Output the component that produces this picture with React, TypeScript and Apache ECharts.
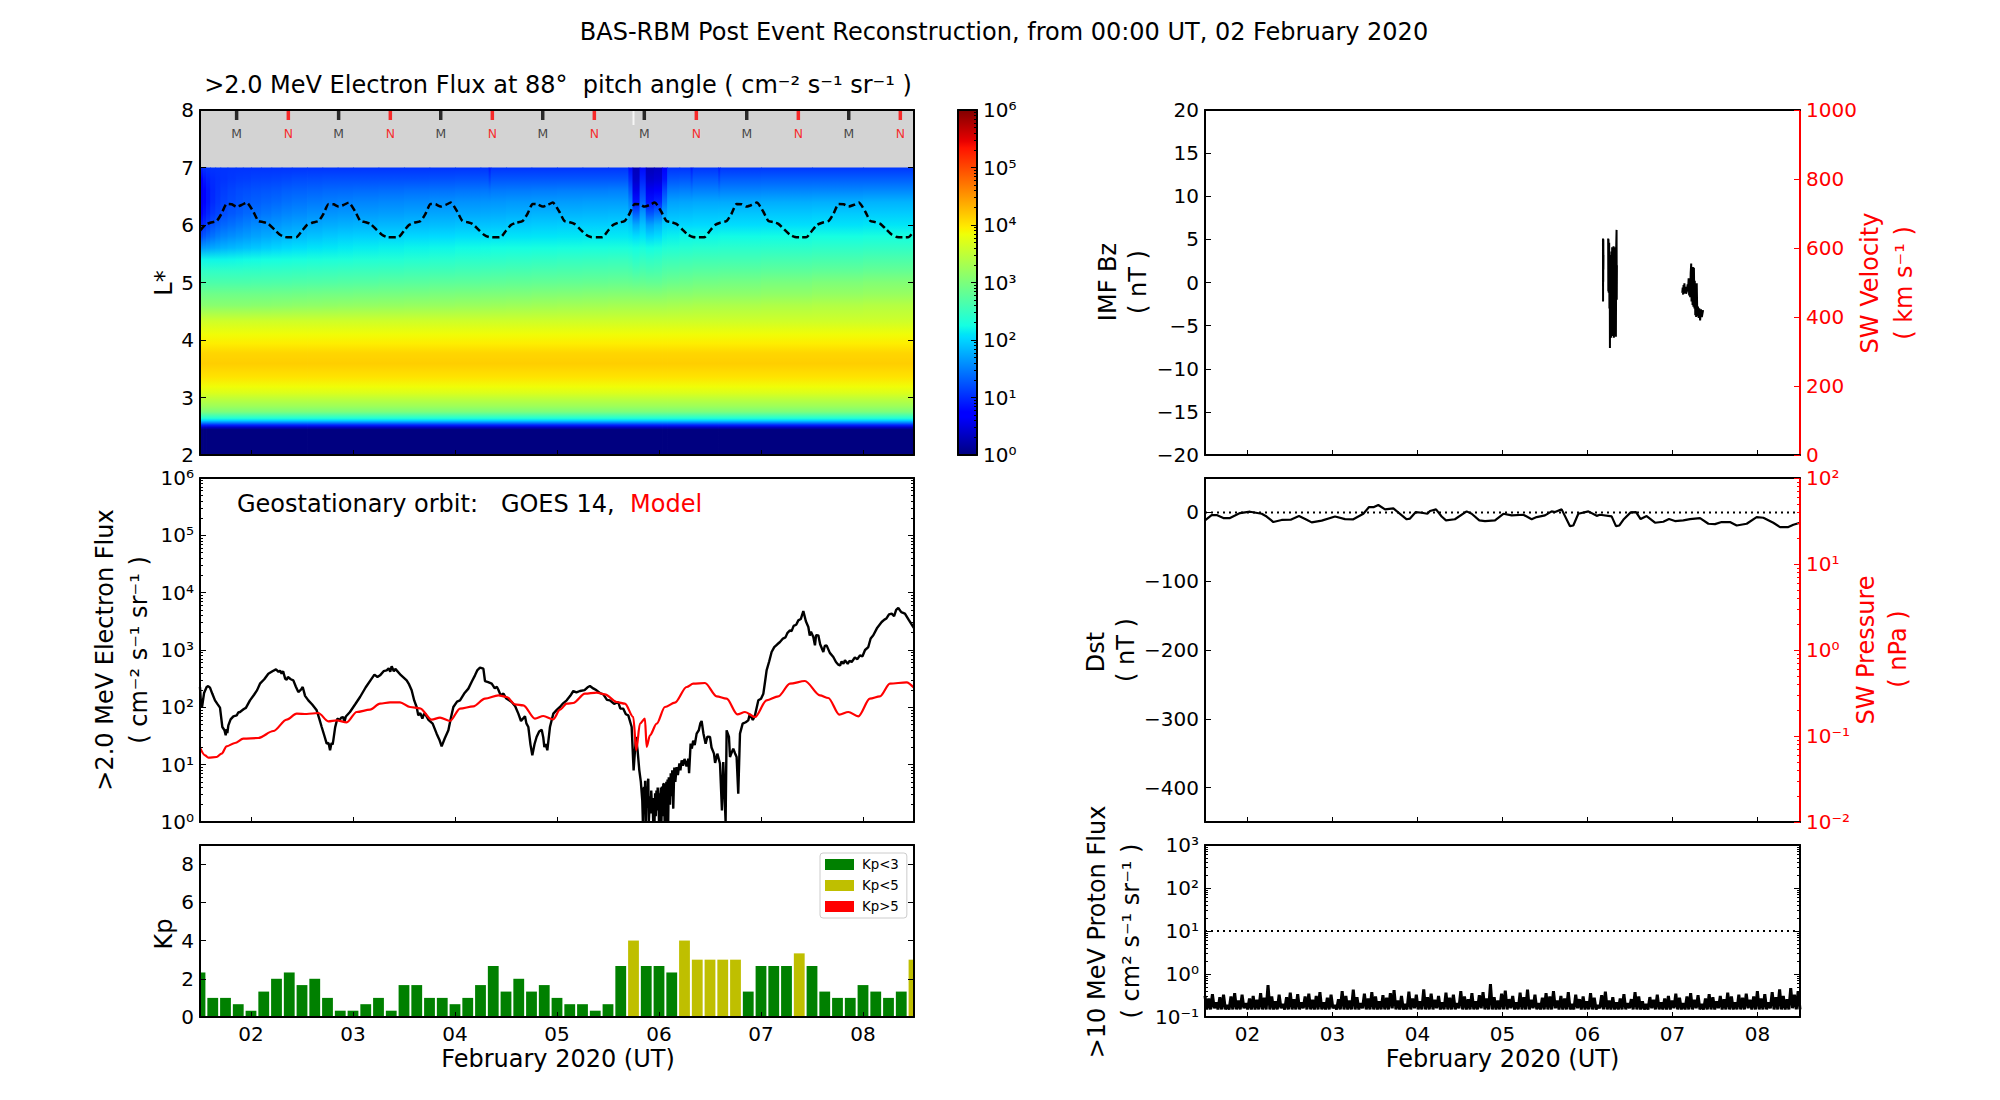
import React, { useEffect, useRef } from "react";
import * as echarts from "echarts";

const FONT = "DejaVu Sans";
const TITLE = "BAS-RBM Post Event Reconstruction, from 00:00 UT, 02 February 2020";
const DAY_TICKS = [2, 3, 4, 5, 6, 7, 8];

const innerLStar = [2, 2.44, 2.48, 2.52, 2.56, 2.6, 2.64, 2.7, 2.75, 2.85, 2.96, 3.08, 3.19, 3.36, 3.59, 3.77, 3.94, 4.1, 4.33];
const innerLogFlux = [0, 0, 0.35, 0.95, 1.5, 2.0, 2.35, 2.7, 3.0, 3.25, 3.45, 3.7, 3.85, 4.02, 4.15, 4.1, 3.95, 3.85, 3.6];
const outerLStar = [4.6, 4.8, 5.0, 5.2, 5.4, 5.6, 5.8, 6.0, 6.2, 6.4, 6.6, 6.8, 7.0];
const columnStart = [1.5, 1.53, 1.56, 1.6, 1.65, 1.7, 1.77, 1.85, 1.92, 2, 2.1, 2.2, 2.3, 2.4, 2.55, 2.7, 2.85, 3, 3.25, 3.5, 3.75, 4, 4.25, 4.33, 4.35, 4.5, 4.75, 5, 5.25, 5.5, 5.7, 5.74, 5.81, 5.87, 5.95, 6.03, 6.08, 6.2, 6.31, 6.33, 6.58, 6.6, 7, 7.5, 8];
const outerLogFlux = [
  [3.1, 2.9, 2.65, 2.45, 2.2, 1.65, 1.2, 0.95, 0.75, 0.6, 0.6, 0.75, 1.0],
  [3.1, 2.9, 2.65, 2.45, 2.2, 1.68, 1.28, 1.03, 0.85, 0.75, 0.75, 0.87, 1.03],
  [3.1, 2.9, 2.65, 2.45, 2.2, 1.7, 1.36, 1.12, 0.96, 0.88, 0.88, 0.95, 1.05],
  [3.1, 2.9, 2.65, 2.45, 2.2, 1.74, 1.43, 1.23, 1.08, 1.0, 0.98, 1.0, 1.05],
  [3.1, 2.9, 2.65, 2.45, 2.2, 1.77, 1.5, 1.3, 1.15, 1.08, 1.05, 1.03, 1.05],
  [3.1, 2.9, 2.65, 2.45, 2.2, 1.8, 1.55, 1.36, 1.21, 1.15, 1.1, 1.05, 1.05],
  [3.1, 2.9, 2.65, 2.45, 2.21, 1.83, 1.59, 1.41, 1.26, 1.2, 1.15, 1.08, 1.05],
  [3.1, 2.9, 2.65, 2.45, 2.22, 1.86, 1.63, 1.46, 1.31, 1.24, 1.19, 1.1, 1.05],
  [3.1, 2.9, 2.65, 2.46, 2.23, 1.89, 1.67, 1.51, 1.36, 1.28, 1.21, 1.11, 1.05],
  [3.11, 2.9, 2.66, 2.46, 2.24, 1.92, 1.71, 1.56, 1.41, 1.31, 1.23, 1.13, 1.05],
  [3.11, 2.9, 2.66, 2.47, 2.25, 1.96, 1.75, 1.6, 1.45, 1.34, 1.25, 1.14, 1.05],
  [3.12, 2.91, 2.67, 2.47, 2.26, 2.0, 1.79, 1.64, 1.49, 1.37, 1.27, 1.15, 1.05],
  [3.13, 2.91, 2.67, 2.48, 2.27, 2.03, 1.83, 1.68, 1.53, 1.41, 1.3, 1.17, 1.05],
  [3.14, 2.92, 2.68, 2.49, 2.28, 2.06, 1.86, 1.71, 1.56, 1.44, 1.32, 1.19, 1.05],
  [3.15, 2.93, 2.69, 2.5, 2.3, 2.09, 1.9, 1.74, 1.6, 1.47, 1.34, 1.2, 1.05],
  [3.16, 2.94, 2.7, 2.51, 2.31, 2.11, 1.93, 1.77, 1.62, 1.49, 1.36, 1.21, 1.05],
  [3.17, 2.94, 2.71, 2.52, 2.32, 2.13, 1.96, 1.79, 1.64, 1.51, 1.37, 1.21, 1.05],
  [3.18, 2.95, 2.72, 2.53, 2.34, 2.15, 1.98, 1.81, 1.66, 1.53, 1.38, 1.21, 1.05],
  [3.19, 2.96, 2.74, 2.54, 2.35, 2.17, 2.0, 1.83, 1.68, 1.55, 1.39, 1.21, 1.05],
  [3.2, 2.97, 2.75, 2.56, 2.37, 2.19, 2.02, 1.85, 1.7, 1.57, 1.41, 1.21, 1.05],
  [3.21, 2.99, 2.77, 2.57, 2.39, 2.21, 2.04, 1.87, 1.72, 1.59, 1.42, 1.22, 1.05],
  [3.22, 3.0, 2.78, 2.59, 2.41, 2.23, 2.06, 1.89, 1.74, 1.61, 1.44, 1.23, 1.05],
  [3.23, 3.01, 2.79, 2.6, 2.42, 2.24, 2.07, 1.9, 1.75, 1.62, 1.45, 1.24, 1.05],
  [3.23, 3.01, 2.79, 2.6, 2.42, 2.24, 2.07, 1.9, 1.75, 1.62, 1.42, 1.12, 0.9],
  [3.24, 3.01, 2.8, 2.61, 2.43, 2.25, 2.08, 1.91, 1.76, 1.63, 1.46, 1.25, 1.05],
  [3.25, 3.02, 2.81, 2.62, 2.44, 2.26, 2.09, 1.93, 1.78, 1.65, 1.47, 1.25, 1.05],
  [3.27, 3.04, 2.82, 2.64, 2.46, 2.27, 2.1, 1.95, 1.8, 1.66, 1.48, 1.25, 1.05],
  [3.28, 3.05, 2.83, 2.65, 2.48, 2.28, 2.11, 1.96, 1.81, 1.67, 1.49, 1.25, 1.05],
  [3.29, 3.06, 2.84, 2.66, 2.49, 2.29, 2.12, 1.97, 1.82, 1.68, 1.49, 1.25, 1.05],
  [3.3, 3.07, 2.85, 2.67, 2.5, 2.3, 2.12, 1.98, 1.83, 1.68, 1.5, 1.25, 1.05],
  [3.3, 3.07, 2.84, 2.65, 2.47, 2.28, 2.1, 1.92, 1.7, 1.5, 1.25, 1.0, 0.8],
  [3.3, 3.06, 2.82, 2.6, 2.42, 2.25, 2.05, 1.75, 1.3, 0.85, 0.55, 0.38, 0.3],
  [3.3, 3.07, 2.84, 2.65, 2.48, 2.3, 2.1, 1.9, 1.65, 1.35, 1.15, 0.95, 0.8],
  [3.3, 3.06, 2.82, 2.62, 2.45, 2.25, 2.0, 1.7, 1.25, 0.85, 0.6, 0.4, 0.3],
  [3.3, 3.06, 2.82, 2.63, 2.47, 2.28, 2.05, 1.8, 1.4, 0.95, 0.65, 0.45, 0.35],
  [3.3, 3.08, 2.86, 2.68, 2.52, 2.33, 2.15, 1.98, 1.72, 1.42, 1.15, 0.85, 0.7],
  [3.32, 3.1, 2.88, 2.7, 2.53, 2.35, 2.17, 2.0, 1.85, 1.7, 1.48, 1.25, 1.05],
  [3.33, 3.1, 2.9, 2.72, 2.55, 2.37, 2.2, 2.02, 1.87, 1.72, 1.5, 1.27, 1.05],
  [3.33, 3.1, 2.9, 2.72, 2.55, 2.37, 2.2, 2.02, 1.87, 1.72, 1.45, 1.15, 0.9],
  [3.35, 3.12, 2.93, 2.74, 2.57, 2.39, 2.21, 2.03, 1.89, 1.74, 1.51, 1.28, 1.05],
  [3.35, 3.12, 2.94, 2.75, 2.57, 2.4, 2.22, 2.04, 1.9, 1.74, 1.46, 1.16, 0.92],
  [3.36, 3.13, 2.95, 2.76, 2.58, 2.41, 2.23, 2.05, 1.91, 1.75, 1.52, 1.29, 1.06],
  [3.38, 3.15, 2.98, 2.78, 2.6, 2.42, 2.24, 2.06, 1.92, 1.77, 1.53, 1.3, 1.07],
  [3.4, 3.18, 3.02, 2.8, 2.62, 2.44, 2.26, 2.08, 1.94, 1.78, 1.54, 1.3, 1.07],
  [3.42, 3.2, 3.05, 2.83, 2.65, 2.46, 2.28, 2.1, 1.95, 1.8, 1.55, 1.3, 1.07],
];

// L* of geostationary orbit through one UT day (repeats each day in the picture)
const geoCycleOffset = [0, 0.049, 0.1, 0.163, 0.212, 0.261, 0.31, 0.359, 0.41, 0.458, 0.523, 0.572, 0.62, 0.67, 0.73, 0.784, 0.833, 0.89, 0.948];
const geoCycleLStar = [5.9, 6.0, 6.04, 6.07, 6.2, 6.365, 6.36, 6.32, 6.35, 6.39, 6.23, 6.07, 6.05, 6.02, 5.92, 5.83, 5.79, 5.785, 5.79];
const geoCycleDays = [1.5, 2.5, 3.5, 4.5, 5.5, 6.5, 7.5];
const noonDays = [1.859, 2.859, 3.86, 4.86, 5.856, 6.86, 7.86];
const midnightDays = [2.366, 3.366, 4.366, 5.366, 6.366, 7.366, 8.366];
const gapDays = [5.75];
const TICK_LSTAR = 7.913;
const LABEL_LSTAR = 7.583;

// ---- Geostationary flux: [day of Feb, log10 flux] ----
const goesLog = [
  [1.5, 2.355], [1.51, 2.05], [1.52, 2.006], [1.54, 2.25], [1.565, 2.355], [1.58, 2.37], [1.598, 2.343], [1.62, 2.24], [1.647, 2.122], [1.67, 2.06], [1.696, 1.994], [1.719, 1.657], [1.74, 1.6], [1.752, 1.512], [1.762, 1.62], [1.768, 1.55], [1.778, 1.686],
  [1.8, 1.79], [1.827, 1.843], [1.86, 1.86], [1.875, 1.91], [1.892, 1.919], [1.93, 1.97], [1.95, 1.99], [1.99, 2.122], [2.03, 2.22], [2.06, 2.3], [2.088, 2.413], [2.13, 2.49], [2.17, 2.587], [2.21, 2.63], [2.245, 2.663], [2.27, 2.62], [2.285, 2.64], [2.3, 2.587], [2.315, 2.63], [2.335, 2.5], [2.35, 2.483], [2.362, 2.53], [2.39, 2.49], [2.415, 2.471],
  [2.44, 2.36], [2.464, 2.267], [2.49, 2.31], [2.507, 2.355], [2.53, 2.2], [2.562, 2.122], [2.6, 2.05], [2.644, 1.948], [2.67, 1.8], [2.693, 1.657], [2.72, 1.5], [2.742, 1.366], [2.76, 1.38], [2.775, 1.25], [2.79, 1.38], [2.8, 1.35], [2.807, 1.424], [2.825, 1.65], [2.846, 1.802],
  [2.87, 1.78], [2.885, 1.82], [2.905, 1.831], [2.915, 1.74], [2.93, 1.84], [2.97, 1.919], [3.02, 2.05], [3.069, 2.18], [3.125, 2.35], [3.183, 2.5], [3.21, 2.57], [3.24, 2.53], [3.265, 2.558], [3.3, 2.63], [3.33, 2.645], [3.35, 2.68], [3.365, 2.62], [3.379, 2.715], [3.4, 2.63], [3.415, 2.67], [3.428, 2.645],
  [3.47, 2.56], [3.526, 2.471], [3.55, 2.4], [3.575, 2.297], [3.6, 2.12], [3.624, 2.006], [3.64, 1.86], [3.66, 1.9], [3.68, 1.802], [3.695, 1.88], [3.706, 1.89], [3.74, 1.78], [3.781, 1.715], [3.82, 1.541], [3.85, 1.42], [3.869, 1.32], [3.9, 1.46], [3.935, 1.599],
  [3.96, 1.82], [3.984, 2.006], [4.02, 2.1], [4.049, 2.122], [4.09, 2.24], [4.131, 2.326], [4.165, 2.45], [4.196, 2.558], [4.22, 2.65], [4.245, 2.692], [4.278, 2.674], [4.294, 2.459], [4.325, 2.44], [4.36, 2.413], [4.39, 2.33], [4.41, 2.36], [4.425, 2.308], [4.448, 2.209], [4.475, 2.24], [4.5, 2.16], [4.556, 2.093],
  [4.59, 2.02], [4.621, 1.89], [4.647, 1.762], [4.686, 1.843], [4.7, 1.72], [4.719, 1.657], [4.74, 1.35], [4.758, 1.163], [4.78, 1.36], [4.8, 1.483], [4.825, 1.58], [4.85, 1.61], [4.865, 1.48], [4.876, 1.308], [4.89, 1.36], [4.905, 1.25], [4.931, 1.657], [4.964, 1.89], [5, 1.96], [5.029, 2.006],
  [5.06, 2.07], [5.095, 2.122], [5.13, 2.2], [5.16, 2.285], [5.19, 2.26], [5.225, 2.285], [5.27, 2.3], [5.3, 2.35], [5.323, 2.372], [5.355, 2.33], [5.388, 2.297], [5.42, 2.25], [5.454, 2.227], [5.49, 2.13], [5.519, 2.122], [5.56, 2.06], [5.6, 2.093], [5.62, 1.98], [5.65, 1.977], [5.675, 1.88], [5.699, 1.86], [5.732, 1.657],
  [5.751, 0.901], [5.774, 1.483], [5.79, 1.25], [5.807, 0.901], [5.822, 0.7], [5.836, 0.378], [5.842, 0], [5.848, 0.55], [5.853, 0.61], [5.858, 0.2], [5.864, 0.72], [5.868, 0], [5.872, 0.03], [5.878, 0.62], [5.884, 0.25], [5.89, 0.7], [5.895, 0.756], [5.9, 0], [5.906, 0], [5.912, 0.45], [5.918, 0.15], [5.924, 0.55], [5.93, 0.3], [5.937, 0.378], [5.943, 0], [5.95, 0.42], [5.956, 0], [5.962, 0.5], [5.968, 0.1], [5.975, 0.55], [5.981, 0.2], [5.987, 0.6], [5.993, 0.465], [6, 0], [6.006, 0.5], [6.012, 0], [6.018, 0.6], [6.024, 0], [6.03, 0.62], [6.036, 0.1], [6.042, 0.66], [6.049, 0.669], [6.055, 0], [6.06, 0.6], [6.066, 0], [6.072, 0.7], [6.078, 0.05], [6.084, 0.74], [6.09, 0], [6.096, 0.78], [6.101, 0.727], [6.108, 0.3], [6.115, 0.85], [6.122, 0.45], [6.13, 0.9], [6.14, 0.233], [6.15, 0.95], [6.16, 0.7], [6.173, 0.959],
  [6.185, 0.82], [6.2, 1.02], [6.21, 0.9], [6.222, 1.076], [6.235, 0.98], [6.25, 1.1], [6.27, 0.97], [6.287, 1.105], [6.295, 0.85], [6.31, 1.366], [6.322, 1.28], [6.335, 1.42], [6.35, 1.34], [6.369, 1.541], [6.39, 1.6], [6.405, 1.72], [6.418, 1.762], [6.435, 1.55], [6.457, 1.366], [6.475, 1.49], [6.5, 1.483], [6.515, 1.3], [6.539, 1.192], [6.55, 1.03], [6.572, 1.192], [6.598, 1.017], [6.617, 0.203], [6.63, 1.047], [6.653, 0],
  [6.663, 1.599], [6.686, 1.483], [6.696, 1.134], [6.71, 1.2], [6.728, 1.279], [6.745, 1.2], [6.761, 1.134], [6.777, 0.494], [6.794, 1.541], [6.82, 1.715], [6.85, 1.74], [6.875, 1.773], [6.89, 1.88], [6.92, 1.78], [6.941, 1.86], [6.974, 2.122], [7, 2.15], [7.023, 2.238],
  [7.04, 2.45], [7.055, 2.645], [7.08, 2.8], [7.104, 2.965], [7.13, 3.05], [7.16, 3.1], [7.186, 3.14], [7.215, 3.2], [7.24, 3.22], [7.26, 3.3], [7.284, 3.343], [7.3, 3.33], [7.32, 3.42], [7.345, 3.44], [7.366, 3.517], [7.39, 3.54], [7.415, 3.68], [7.44, 3.5], [7.464, 3.401], [7.478, 3.25], [7.49, 3.32], [7.513, 3.227], [7.529, 3.081], [7.54, 3.26], [7.562, 3.256], [7.58, 3.1], [7.611, 2.965], [7.625, 3.07], [7.643, 3.081],
  [7.675, 2.95], [7.709, 2.878], [7.735, 2.79], [7.758, 2.744], [7.775, 2.73], [7.79, 2.8], [7.808, 2.76], [7.823, 2.82], [7.85, 2.76], [7.868, 2.81], [7.889, 2.791], [7.92, 2.87], [7.945, 2.84], [7.97, 2.907], [7.995, 2.89], [8.02, 3.0], [8.052, 3.052], [8.075, 3.2], [8.101, 3.256], [8.14, 3.39], [8.183, 3.488], [8.21, 3.53], [8.23, 3.55], [8.255, 3.62], [8.281, 3.634], [8.305, 3.59], [8.325, 3.7], [8.346, 3.733], [8.375, 3.66], [8.411, 3.634], [8.45, 3.52], [8.493, 3.401], [8.5, 3.38],
];
const modelLog = [
  [1.5, 1.297], [1.549, 1.163], [1.582, 1.122], [1.663, 1.134], [1.712, 1.192], [1.761, 1.32], [1.843, 1.378], [1.925, 1.453], [2.072, 1.465], [2.219, 1.587], [2.35, 1.785], [2.448, 1.89], [2.546, 1.884], [2.66, 1.901],
  [2.758, 1.756], [2.84, 1.773], [2.938, 1.738], [3.036, 1.919], [3.167, 1.959], [3.265, 2.064], [3.363, 2.087], [3.461, 2.087], [3.559, 2.006], [3.657, 1.983], [3.771, 1.785], [3.853, 1.82], [3.951, 1.762],
  [4.049, 1.977], [4.18, 2.017], [4.294, 2.151], [4.425, 2.209], [4.507, 2.18], [4.588, 2.052], [4.67, 2.035], [4.784, 1.802], [4.866, 1.849], [4.964, 1.791], [5.029, 1.959], [5.095, 2.064], [5.16, 2.076],
  [5.274, 2.238], [5.388, 2.256], [5.47, 2.227], [5.585, 2.093], [5.666, 2.064], [5.748, 1.831], [5.777, 1.25], [5.813, 1.715], [5.862, 1.802], [5.879, 1.308], [5.911, 1.512], [5.977, 1.715], [6.058, 2.006],
  [6.156, 2.081], [6.271, 2.355], [6.336, 2.413], [6.451, 2.424], [6.565, 2.192], [6.663, 2.151], [6.768, 1.878], [6.843, 1.919], [6.941, 1.831], [7.055, 2.122], [7.17, 2.192], [7.284, 2.413], [7.431, 2.459],
  [7.578, 2.209], [7.66, 2.163], [7.768, 1.872], [7.856, 1.919], [7.954, 1.843], [8.068, 2.151], [8.166, 2.192], [8.264, 2.413], [8.427, 2.436], [8.5, 2.34],
];

// ---- Kp, one value each 3 h from 12 UT on Feb 1 ----
const kpValues = [
  2.33, 1, 1, 0.67, 0.33, 1.33, 2, 2.33, 1.67, 2, 1, 0.33, 0.33, 0.67, 1, 0.33, 1.67, 1.67, 1, 1, 0.67, 1, 1.67, 2.67, 1.33, 2, 1.33, 1.67, 1,
  0.67, 0.67, 0.33, 0.67, 2.67, 4, 2.67, 2.67, 2.33, 4, 3, 3, 3, 3, 1.33, 2.67, 2.67, 2.67, 3.33, 2.67, 1.33, 1, 1, 1.67, 1.33, 1, 1.33, 3,
];
const KP_STEP_DAYS = 0.125;
const KP_BAR_DAYS = 0.106;

// ---- IMF Bz ----
const imfBz = [
  [6.182, 5.1], [6.183, -2.2], [6.184, 4.8], [6.185, 0.1], [6.186, 5.0], [6.187, 1.5], [6.188, 3.2], [6.2, null],
  [6.243, 5.1], [6.245, -1.0], [6.247, 5.0], [6.25, -1.2], [6.255, 4.6], [6.258, -3], [6.262, 2], [6.264, -7.6], [6.267, 2.5], [6.27, -6.2], [6.274, 3.2], [6.278, -6.4], [6.282, 3.6], [6.286, -5.8], [6.29, 4.1], [6.294, -6.2], [6.298, 3.9], [6.302, -6], [6.306, 4.2], [6.31, -6.4], [6.314, 3.9], [6.318, -5.9], [6.322, 4.1], [6.326, -6.1], [6.33, 3.8], [6.334, -6.3], [6.338, 4.2], [6.342, 6.1], [6.344, -2], [6.346, 2], [6.36, null],
  [7.115, -1.2], [7.12, -0.6], [7.125, -1.4], [7.13, -0.3], [7.135, -1.3], [7.14, -0.1], [7.145, -1.1], [7.152, -0.5], [7.16, -1.3], [7.17, -1], [7.178, -0.2], [7.183, -0.9], [7.19, 0.5], [7.196, -1.5], [7.2, 0.4], [7.208, -1.7], [7.214, 1.1], [7.22, 2.2], [7.224, -2.2], [7.23, 1.4], [7.236, -2.6], [7.24, 1.8], [7.246, -2.8], [7.252, 1.7], [7.258, -3.0], [7.262, 0.2], [7.268, -3.8], [7.272, -0.2], [7.278, -4.0], [7.285, -0.1], [7.292, -3.9], [7.3, -2.8], [7.308, -4.1], [7.315, -3.0], [7.325, -4.4], [7.335, -3.1], [7.345, -4.0], [7.36, -3.2],
];

// ---- Dst ----
const dstValues = [
  [1.5, -11.6], [1.578, -3.9], [1.637, -3.9], [1.716, -8.2], [1.794, -8.2], [1.912, -1], [2.03, 1], [2.167, -2], [2.225, -6], [2.304, -14], [2.402, -11], [2.508, -10.7], [2.606, -5.3], [2.696, -10.7], [2.755, -14.5], [2.873, -12],
  [3.03, -6], [3.147, -9.7], [3.245, -10], [3.363, -2], [3.43, 7.8], [3.488, 7.8], [3.539, 10.7], [3.618, 4.4], [3.716, 5.8], [3.794, -2], [3.873, -10], [3.912, -9], [3.98, 0.5], [4.05, -0.5], [4.116, -2], [4.147, 2], [4.218, 4.4],
  [4.284, -6], [4.335, -11.6], [4.44, -10], [4.578, 1.5], [4.637, -2], [4.727, -11.6], [4.794, -12.6], [4.912, -11.6], [5.01, -2], [5.108, -4.4], [5.245, -3.4], [5.343, -10], [5.402, -6.8], [5.5, -4.4], [5.578, 1.5], [5.618, 0.5], [5.696, 4.4],
  [5.794, -20], [5.833, -19], [5.892, -2], [6.01, 1.5], [6.108, -5], [6.147, -3.4], [6.284, -5.8], [6.335, -20], [6.375, -19], [6.421, -10.7], [6.508, 0], [6.571, 0.5], [6.625, -9.7], [6.696, -5.3], [6.794, -15], [6.892, -13.6], [6.959, -9.7],
  [7.029, -12.6], [7.127, -11.6], [7.206, -9.7], [7.324, -8.2], [7.422, -16.5], [7.5, -17], [7.578, -14], [7.676, -14], [7.755, -19], [7.873, -16.5], [7.99, -6.8], [8.069, -7.8], [8.186, -15], [8.265, -21.3], [8.363, -21.3], [8.422, -18], [8.5, -15],
];
const DST_QUIET = 0;
const PROTON_ALERT = 10;

// ---- >10 MeV protons, every half hour ----
const protonFlux = [
  0.31, 0.15, 0.27, 0.15, 0.34, 0.16, 0.22, 0.15, 0.29, 0.15, 0.33, 0.15, 0.19, 0.15, 0.3, 0.15, 0.36, 0.15, 0.24, 0.15, 0.33, 0.16, 0.21, 0.15, 0.27, 0.15, 0.31, 0.15, 0.25, 0.15, 0.36, 0.15,
  0.28, 0.15, 0.55, 0.15, 0.3, 0.15, 0.23, 0.15, 0.33, 0.16, 0.2, 0.15, 0.29, 0.15, 0.37, 0.15, 0.26, 0.15, 0.34, 0.15, 0.22, 0.16, 0.3, 0.15, 0.35, 0.15, 0.25, 0.15, 0.31, 0.15, 0.38, 0.15,
  0.22, 0.15, 0.28, 0.15, 0.33, 0.16, 0.19, 0.15, 0.26, 0.15, 0.4, 0.15, 0.31, 0.15, 0.24, 0.15, 0.43, 0.15, 0.29, 0.15, 0.21, 0.16, 0.35, 0.15, 0.27, 0.15, 0.38, 0.15, 0.3, 0.15, 0.23, 0.15,
  0.32, 0.15, 0.28, 0.15, 0.36, 0.16, 0.42, 0.15, 0.24, 0.15, 0.31, 0.15, 0.2, 0.15, 0.39, 0.15, 0.27, 0.16, 0.33, 0.15, 0.23, 0.15, 0.44, 0.15, 0.29, 0.15, 0.35, 0.15, 0.25, 0.16, 0.31, 0.15,
  0.22, 0.15, 0.37, 0.15, 0.28, 0.15, 0.33, 0.15, 0.21, 0.16, 0.4, 0.15, 0.3, 0.15, 0.26, 0.15, 0.36, 0.15, 0.23, 0.15, 0.32, 0.16, 0.38, 0.15, 0.27, 0.15, 0.58, 0.15, 0.29, 0.15, 0.24, 0.15,
  0.35, 0.15, 0.41, 0.15, 0.26, 0.16, 0.31, 0.15, 0.22, 0.15, 0.37, 0.15, 0.29, 0.15, 0.43, 0.15, 0.25, 0.16, 0.33, 0.15, 0.21, 0.15, 0.28, 0.15, 0.36, 0.15, 0.3, 0.15, 0.4, 0.16, 0.24, 0.15,
  0.31, 0.15, 0.27, 0.15, 0.38, 0.15, 0.2, 0.15, 0.33, 0.16, 0.26, 0.15, 0.3, 0.15, 0.23, 0.15, 0.36, 0.15, 0.28, 0.15, 0.19, 0.16, 0.32, 0.15, 0.39, 0.15, 0.24, 0.15, 0.29, 0.15, 0.22, 0.15,
  0.27, 0.15, 0.34, 0.15, 0.21, 0.16, 0.26, 0.15, 0.38, 0.15, 0.3, 0.15, 0.23, 0.15, 0.2, 0.15, 0.29, 0.16, 0.25, 0.15, 0.33, 0.15, 0.22, 0.15, 0.27, 0.15, 0.31, 0.15, 0.24, 0.16, 0.35, 0.15,
  0.28, 0.15, 0.21, 0.15, 0.3, 0.15, 0.36, 0.15, 0.25, 0.16, 0.32, 0.15, 0.2, 0.15, 0.27, 0.15, 0.34, 0.15, 0.29, 0.15, 0.23, 0.16, 0.31, 0.15, 0.26, 0.15, 0.37, 0.15, 0.3, 0.15, 0.22, 0.15,
  0.33, 0.15, 0.28, 0.15, 0.35, 0.16, 0.25, 0.15, 0.3, 0.15, 0.4, 0.15, 0.27, 0.15, 0.34, 0.15, 0.22, 0.16, 0.38, 0.15, 0.29, 0.15, 0.44, 0.15, 0.31, 0.15, 0.26, 0.15, 0.47, 0.16, 0.33, 0.15, 0.4, 0.15,
];

// ---- Axis extents / ticks ----
const LSTAR_RANGE = [2, 8];
const BZ_RANGE = [-20, 20];
const VELOCITY_RANGE = [0, 1000];
const KP_RANGE = [0, 9];
const KP_TICKS = [0, 2, 4, 6, 8];
const DST_RANGE = [-450, 50];
const DST_TICKS = [-400, -300, -200, -100, 0];

// ---- matplotlib "jet" ----
const JET_R = [[0, 0], [0.35, 0], [0.66, 1], [0.89, 1], [1, 0.5]];
const JET_G = [[0, 0], [0.125, 0], [0.375, 1], [0.64, 1], [0.91, 0], [1, 0]];
const JET_B = [[0, 0.5], [0.11, 1], [0.34, 1], [0.65, 0], [1, 0]];
const JET_KNOTS = [0, 0.11, 0.125, 0.34, 0.35, 0.375, 0.64, 0.65, 0.66, 0.89, 0.91, 1];
function channel(table: number[][], t: number) {
  for (let i = 1; i < table.length; i++) {
    if (t <= table[i][0]) {
      const [a, va] = table[i - 1];
      const [b, vb] = table[i];
      return va + ((vb - va) * (t - a)) / (b - a);
    }
  }
  return table[table.length - 1][1];
}
function jet(t: number) {
  const u = Math.max(0, Math.min(1, t));
  const c = (tb: number[][]) => Math.round(channel(tb, u) * 255);
  return `rgb(${c(JET_R)},${c(JET_G)},${c(JET_B)})`;
}

const SUP: Record<string, string> = { "-": "⁻", "0": "⁰", "1": "¹", "2": "²", "3": "³", "4": "⁴", "5": "⁵", "6": "⁶" };
const decadeLabel = (v: number) => "10" + String(Math.round(Math.log10(v))).split("").map((c) => SUP[c]).join("");

function minorDecades(a: number, b: number) {
  const out: number[] = [];
  for (let d = a; d < b; d++) for (let k = 2; k <= 9; k++) out.push(d + Math.log10(k));
  return out;
}

const BLACK = "#000";
const RED = "#ff0000";
const FRAME = 2;
const TICK_FONT = 20;
const LABEL_FONT = 24;

function buildOption() {
  const grid: any[] = [];
  const xAxis: any[] = [];
  const yAxis: any[] = [];
  const series: any[] = [];

  const addPanel = (left: number, top: number, width: number, height: number, showDays: boolean) => {
    const g = grid.length;
    grid.push({ left, top, width, height, containLabel: false });
    const xi = xAxis.length;
    xAxis.push({
      type: "value", gridIndex: g, position: "bottom", min: 1.5, max: 8.5, z: 10,
      axisLine: { show: true, onZero: false, lineStyle: { color: BLACK, width: FRAME } },
      axisTick: { show: true, inside: true, length: 5, customValues: DAY_TICKS, lineStyle: { color: BLACK, width: 1 } },
      axisLabel: {
        show: showDays, customValues: DAY_TICKS, margin: 7,
        fontFamily: FONT, fontSize: TICK_FONT, color: BLACK,
        formatter: (v: number) => String(v).padStart(2, "0"),
      },
      splitLine: { show: false },
    });
    xAxis.push({
      type: "value", gridIndex: g, position: "top", min: 1.5, max: 8.5, z: 10,
      axisLine: { show: true, onZero: false, lineStyle: { color: BLACK, width: FRAME } },
      axisTick: { show: false }, axisLabel: { show: false }, splitLine: { show: false },
    });
    return { g, xi };
  };

  const addLinearY = (g: number, position: string, range: number[], ticks: number[] | null, interval: number, showLabel: boolean, color = BLACK, format?: (v: number) => string) => {
    const idx = yAxis.length;
    yAxis.push({
      type: "value", gridIndex: g, position, min: range[0], max: range[1], z: 10,
      ...(ticks ? {} : { interval }),
      axisLine: { show: true, onZero: false, lineStyle: { color, width: FRAME } },
      axisTick: { show: true, inside: true, length: 6, lineStyle: { color, width: 1 }, ...(ticks ? { customValues: ticks } : {}) },
      axisLabel: {
        show: showLabel, margin: 6, fontFamily: FONT, fontSize: TICK_FONT, color,
        ...(ticks ? { customValues: ticks } : {}),
        formatter: format || ((v: number) => String(v).replace("-", "−")),
      },
      splitLine: { show: false },
    });
    return idx;
  };

  const addLogY = (g: number, position: string, minExp: number, maxExp: number, showLabel: boolean, color = BLACK) => {
    const idx = yAxis.length;
    yAxis.push({
      type: "log", logBase: 10, gridIndex: g, position, min: Math.pow(10, minExp), max: Math.pow(10, maxExp), z: 10,
      axisLine: { show: true, onZero: false, lineStyle: { color, width: FRAME } },
      axisTick: { show: true, inside: true, length: 6, lineStyle: { color, width: 1 } },
      minorTick: { show: false },
      axisLabel: { show: showLabel, margin: 6, fontFamily: FONT, fontSize: TICK_FONT, color, formatter: decadeLabel },
      splitLine: { show: false },
    });
    yAxis.push({
      type: "value", gridIndex: g, position, min: minExp, max: maxExp, z: 10,
      axisLine: { show: false, onZero: false },
      axisTick: { show: true, inside: true, length: 3, customValues: minorDecades(minExp, maxExp), lineStyle: { color, width: 1 } },
      axisLabel: { show: false }, splitLine: { show: false },
    });
    return idx;
  };

  // ---------- Panel 1: L* map ----------
  const p1 = addPanel(200, 110, 714, 345, false);
  grid[p1.g].show = true;
  grid[p1.g].backgroundColor = "#d3d3d3";
  grid[p1.g].borderWidth = 0;
  const y1 = addLinearY(p1.g, "left", LSTAR_RANGE, null, 1, true);
  addLinearY(p1.g, "right", LSTAR_RANGE, null, 1, false);

  const fluxStops = (col: number[]) => {
    const rows: [number, number][] = [];
    innerLStar.forEach((l, i) => rows.push([l, innerLogFlux[i]]));
    outerLStar.forEach((l, i) => rows.push([l, col[i]]));
    return rows
      .map(([l, f]) => ({ offset: (7 - l) / 5, color: jet(f / 6) }))
      .sort((a, b) => a.offset - b.offset);
  };
  series.push({
    type: "custom", name: "Flux map", xAxisIndex: p1.xi, yAxisIndex: y1, silent: true, z: 1,
    data: columnStart.map((s, i) => [s, i + 1 < columnStart.length ? columnStart[i + 1] : 8.5, i]),
    encode: { x: [0, 1] },
    renderItem: (params: any, api: any) => {
      const a = api.coord([api.value(0), 7]);
      const b = api.coord([api.value(1), 2]);
      const end = params.coordSys.x + params.coordSys.width;
      return {
        type: "rect",
        shape: { x: a[0], y: a[1], width: Math.min(b[0] - a[0] + 0.8, end - a[0]), height: b[1] - a[1] },
        style: { fill: new echarts.graphic.LinearGradient(0, 0, 0, 1, fluxStops(outerLogFlux[api.value(2)])) },
      };
    },
  });
  const geoPoints: number[][] = [];
  geoCycleDays.forEach((start) => geoCycleOffset.forEach((o, i) => geoPoints.push([start + o, geoCycleLStar[i]])));
  geoPoints.push([8.5, geoCycleLStar[0]]);
  series.push({
    type: "line", name: "Geostationary L*", xAxisIndex: p1.xi, yAxisIndex: y1, showSymbol: false, silent: true, z: 3, smooth: 0.2,
    lineStyle: { color: BLACK, width: 2.5, type: [7, 3.5] },
    data: geoPoints,
  });
  const marker = (name: string, days: number[], color: string) => {
    series.push({
      type: "scatter", name: name + " tick", xAxisIndex: p1.xi, yAxisIndex: y1, silent: true, z: 4, symbol: "rect", symbolSize: [3.5, 10],
      itemStyle: { color }, data: days.map((d) => [d, TICK_LSTAR]),
    });
    series.push({
      type: "scatter", name: name + " label", xAxisIndex: p1.xi, yAxisIndex: y1, silent: true, z: 4, symbol: "rect", symbolSize: 1,
      itemStyle: { color: "rgba(0,0,0,0)" },
      label: { show: true, position: "inside", formatter: name, fontFamily: FONT, fontSize: 12.4, color: color === BLACK ? "#222" : color },
      data: days.map((d) => [d, LABEL_LSTAR]),
    });
  };
  marker("M", noonDays, BLACK);
  marker("N", midnightDays, RED);
  series.push({
    type: "scatter", name: "data gap", xAxisIndex: p1.xi, yAxisIndex: y1, silent: true, z: 4, symbol: "rect", symbolSize: [2, 15],
    itemStyle: { color: "#fff" }, data: gapDays.map((d) => [d, 7.87]),
  });

  // ---------- Panel 2: geostationary flux ----------
  const p2 = addPanel(200, 478, 714, 344, false);
  const y2 = addLogY(p2.g, "left", 0, 6, true);
  addLogY(p2.g, "right", 0, 6, false);
  series.push({
    type: "line", name: "GOES 14", xAxisIndex: p2.xi, yAxisIndex: y2, showSymbol: false, silent: true, z: 3,
    lineStyle: { color: BLACK, width: 2.4 }, data: goesLog.map(([d, v]) => [d, Math.pow(10, v)]),
  });
  series.push({
    type: "line", name: "Model", xAxisIndex: p2.xi, yAxisIndex: y2, showSymbol: false, silent: true, z: 4, smooth: 0.3, smoothMonotone: "x",
    lineStyle: { color: RED, width: 2.2 }, data: modelLog.map(([d, v]) => [d, Math.pow(10, v)]),
  });

  // ---------- Panel 3: Kp ----------
  const p3 = addPanel(200, 845, 714, 172, true);
  const y3 = addLinearY(p3.g, "left", KP_RANGE, KP_TICKS, 1, true);
  addLinearY(p3.g, "right", KP_RANGE, KP_TICKS, 1, false);
  const kpPoints = kpValues.map((k, i) => [1.5 + i * KP_STEP_DAYS, k]);
  const kpBar = (name: string, color: string, test: (k: number) => boolean) => ({
    type: "custom", name, xAxisIndex: p3.xi, yAxisIndex: y3, silent: true, z: 3,
    itemStyle: { color }, encode: { x: 0, y: 1 },
    data: kpPoints.filter((p) => test(p[1])),
    renderItem: (params: any, api: any) => {
      const a = api.coord([api.value(0) - KP_BAR_DAYS / 2, api.value(1)]);
      const b = api.coord([api.value(0) + KP_BAR_DAYS / 2, 0]);
      const shape = echarts.graphic.clipRectByRect(
        { x: a[0], y: a[1], width: b[0] - a[0], height: b[1] - a[1] },
        { x: params.coordSys.x, y: params.coordSys.y, width: params.coordSys.width, height: params.coordSys.height },
      );
      return shape ? { type: "rect", shape, style: { fill: color } } : null;
    },
  });
  series.push(kpBar("Kp<3", "#008000", (k) => k < 3));
  series.push(kpBar("Kp<5", "#bfbf00", (k) => k >= 3 && k < 5));
  series.push(kpBar("Kp>5", RED, (k) => k >= 5));

  // ---------- Panel 4: IMF Bz + SW velocity ----------
  const p4 = addPanel(1205, 110, 595, 345, false);
  const y4 = addLinearY(p4.g, "left", BZ_RANGE, null, 5, true);
  addLinearY(p4.g, "right", VELOCITY_RANGE, null, 200, true, RED);
  series.push({
    type: "line", name: "IMF Bz", xAxisIndex: p4.xi, yAxisIndex: y4, showSymbol: false, silent: true, connectNulls: false, z: 3,
    lineStyle: { color: BLACK, width: 2 }, data: imfBz,
  });

  // ---------- Panel 5: Dst + SW pressure ----------
  const p5 = addPanel(1205, 478, 595, 344, false);
  const y5 = addLinearY(p5.g, "left", DST_RANGE, DST_TICKS, 100, true);
  addLogY(p5.g, "right", -2, 2, true, RED);
  series.push({
    type: "line", name: "Dst", xAxisIndex: p5.xi, yAxisIndex: y5, showSymbol: false, silent: true, z: 3,
    lineStyle: { color: BLACK, width: 2.2 }, data: dstValues,
  });
  series.push({
    type: "line", name: "Dst quiet", xAxisIndex: p5.xi, yAxisIndex: y5, showSymbol: false, silent: true, z: 3,
    lineStyle: { color: BLACK, width: 2, type: [2, 4] }, data: [[1.5, DST_QUIET], [8.5, DST_QUIET]],
  });

  // ---------- Panel 6: protons ----------
  const p6 = addPanel(1205, 845, 595, 172, true);
  const y6 = addLogY(p6.g, "left", -1, 3, true);
  addLogY(p6.g, "right", -1, 3, false);
  series.push({
    type: "line", name: "Proton flux", xAxisIndex: p6.xi, yAxisIndex: y6, showSymbol: false, silent: true, z: 3,
    lineStyle: { color: BLACK, width: 3, join: "bevel" }, data: protonFlux.map((v, i) => [1.5 + (i * 7) / (protonFlux.length - 1), v]),
  });
  series.push({
    type: "line", name: "Proton alert", xAxisIndex: p6.xi, yAxisIndex: y6, showSymbol: false, silent: true, z: 3,
    lineStyle: { color: BLACK, width: 2, type: [2, 4] }, data: [[1.5, PROTON_ALERT], [8.5, PROTON_ALERT]],
  });

  // ---------- Colour bar ----------
  const p7 = addPanel(958, 110, 19, 345, false);
  xAxis[p7.xi].axisTick.show = false;
  const y7 = addLogY(p7.g, "right", 0, 6, true);
  const leftBar = addLinearY(p7.g, "left", [0, 6], null, 6, false);
  yAxis[leftBar].axisTick.show = false;
  series.push({
    type: "custom", name: "Colour bar", xAxisIndex: p7.xi, yAxisIndex: y7 + 1, silent: true, z: 1,
    data: [[1.5, 8.5]], encode: { x: [0, 1] },
    renderItem: (_: any, api: any) => {
      const a = api.coord([api.value(0), 6]);
      const b = api.coord([api.value(1), 0]);
      return {
        type: "rect",
        shape: { x: a[0], y: a[1], width: b[0] - a[0], height: b[1] - a[1] },
        style: { fill: new echarts.graphic.LinearGradient(0, 1, 0, 0, JET_KNOTS.map((t) => ({ offset: t, color: jet(t) }))) },
      };
    },
  });

  // ---------- Texts ----------
  const text = (str: string, x: number, y: number, opts: any = {}) => ({
    type: "text", x, y, rotation: opts.rot ? Math.PI / 2 : 0, silent: true, z: 20,
    style: {
      text: str, fontFamily: FONT, fontSize: opts.size || LABEL_FONT, fill: opts.color || BLACK,
      textAlign: opts.align || "center", align: opts.align || "center",
      textVerticalAlign: "middle", verticalAlign: "middle",
    },
  });
  const graphic = [
    text(TITLE, 1004, 32, { size: 24 }),
    text(">2.0 MeV Electron Flux at 88°  pitch angle ( cm⁻² s⁻¹ sr⁻¹ )", 558, 85, { size: 24 }),
    text("L*", 164, 283, { rot: 1 }),
    text(">2.0 MeV Electron Flux", 105, 650, { rot: 1 }),
    text("( cm⁻² s⁻¹ sr⁻¹ )", 139, 650, { rot: 1 }),
    text("Kp", 164, 934, { rot: 1 }),
    text("February 2020 (UT)", 558, 1059),
    text("Geostationary orbit:   GOES 14,", 237, 504, { align: "left" }),
    text("Model", 630, 504, { align: "left", color: RED }),
    text("IMF Bz", 1108, 282, { rot: 1 }),
    text("( nT )", 1138, 282, { rot: 1 }),
    text("SW Velocity", 1870, 283, { rot: 1, color: RED }),
    text("( km s⁻¹ )", 1904, 283, { rot: 1, color: RED }),
    text("Dst", 1096, 652, { rot: 1 }),
    text("( nT )", 1126, 650, { rot: 1 }),
    text("SW Pressure", 1866, 650, { rot: 1, color: RED }),
    text("( nPa )", 1898, 649, { rot: 1, color: RED }),
    text(">10 MeV Proton Flux", 1097, 932, { rot: 1 }),
    text("( cm² s⁻¹ sr⁻¹ )", 1131, 931, { rot: 1 }),
    text("February 2020 (UT)", 1502.5, 1059),
  ];

  return {
    animation: false,
    backgroundColor: "#fff",
    grid, xAxis, yAxis, series, graphic,
    legend: {
      data: ["Kp<3", "Kp<5", "Kp>5"], orient: "vertical", left: 820, top: 853, z: 15,
      itemWidth: 29, itemHeight: 11, itemGap: 8, padding: [5, 8, 5, 5],
      backgroundColor: "#fff", borderColor: "#ccc", borderWidth: 1, borderRadius: 3,
      icon: "rect", selectedMode: false,
      textStyle: { fontFamily: FONT, fontSize: 13.33, color: BLACK, padding: [0, 0, 0, 3] },
    },
  };
}

export default function App() {
  const ref = useRef<HTMLDivElement>(null);
  useEffect(() => {
    const chart = echarts.init(ref.current!, undefined, { renderer: "svg", width: 2000, height: 1100 });
    chart.setOption(buildOption() as any);
    return () => chart.dispose();
  }, []);
  return <div ref={ref} style={{ position: "absolute", left: 0, top: 0, width: 2000, height: 1100 }} />;
}
